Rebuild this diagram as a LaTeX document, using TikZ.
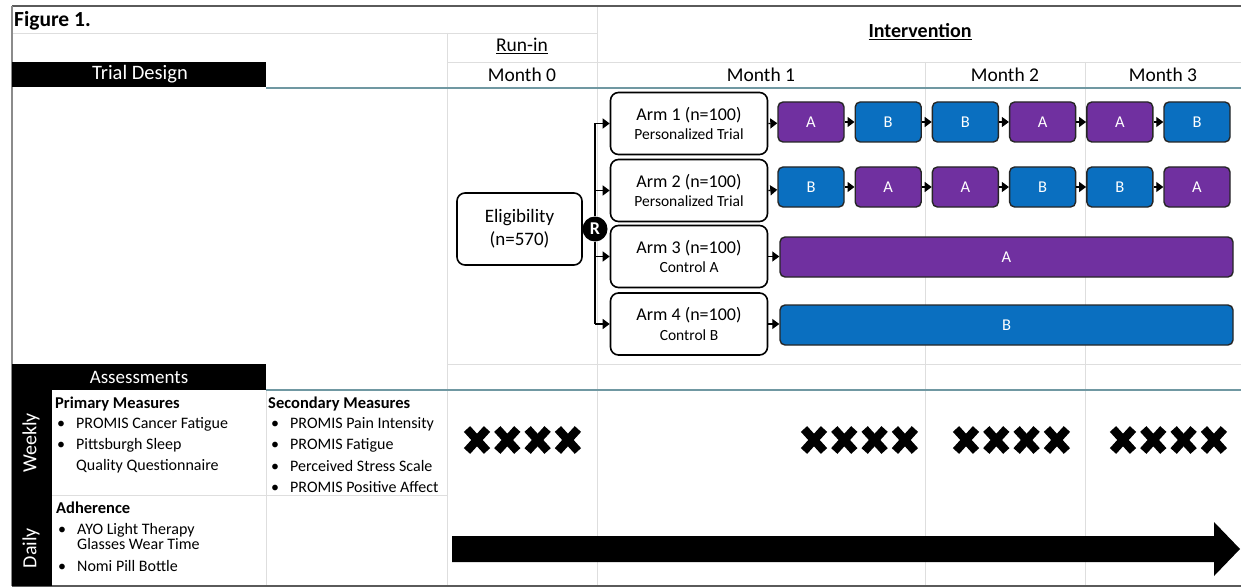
\documentclass[tikz,border=0pt]{standalone}
\usepackage{fontspec}
\setmainfont{Carlito}
\usetikzlibrary{arrows.meta}
\definecolor{armpurple}{HTML}{7030A0}
\definecolor{armblue}{HTML}{0A6FC0}
\definecolor{rule}{RGB}{112,152,162}
\definecolor{faint}{RGB}{222,222,222}
\definecolor{frame}{RGB}{90,90,90}
\tikzset{
  gridline/.style={draw=faint, line width=0.9pt},
  headrule/.style={draw=rule, line width=1.3pt},
  armbox/.style={draw=black, line width=1.6pt, rounded corners=8pt, fill=white,
    minimum width=157pt, minimum height=62pt, align=center, inner sep=0pt},
  phase/.style={draw=black!85, line width=1.4pt, rounded corners=5pt, text=white,
    minimum height=40pt, inner sep=0pt, font=\fontsize{16.5}{16.5}\selectfont},
  boxA/.style={phase, fill=armpurple, minimum width=66pt},
  boxB/.style={phase, fill=armblue, minimum width=66pt},
  link/.style={-{Triangle[length=7pt,width=10pt]}, line width=1.3pt},
  trunk/.style={line width=1.3pt},
  hdr/.style={font=\fontsize{19.5}{19.5}\selectfont, inner sep=0pt},
  item/.style={anchor=west, inner sep=0pt, font=\fontsize{16}{16}\selectfont},
  itemhead/.style={anchor=west, inner sep=0pt, font=\bfseries\fontsize{16.5}{16.5}\selectfont},
  sidelabel/.style={rotate=90, text=white, inner sep=0pt, font=\fontsize{20}{20}\selectfont},
  wk/.pic={\draw[line width=8.5pt] (-10,-11) -- (10,11) (-10,11) -- (10,-11);},
}
\newcommand{\bul}[1]{\makebox[19pt][l]{\textbullet}#1}
\newcommand{\armtext}[2]{{\fontsize{18}{18}\selectfont #1}\\[5pt]{\fontsize{15.5}{15.5}\selectfont #2}}
\begin{document}
\begin{tikzpicture}[x=1pt,y=-1pt]
\useasboundingbox (0,0) rectangle (1241,588);
\fill[white] (0,0) rectangle (1241,588);

% table grid
\draw[gridline] (12,33) -- (597,33);
\draw[gridline] (447,62) -- (1241,62);
\draw[gridline] (447,33) -- (447,586);
\draw[gridline] (597,6) -- (597,586);
\draw[gridline] (925,62) -- (925,586);
\draw[gridline] (1085,62) -- (1085,586);
\draw[gridline] (447,364) -- (1241,364);
\draw[gridline] (52,495) -- (447,495);
\draw[gridline] (266,390) -- (266,586);
\draw[headrule] (266,88) -- (1241,88);
\draw[headrule] (266,390) -- (1241,390);

% outer frame
\draw[frame, line width=2pt] (12,6) -- (1241,6);
\draw[frame!70, line width=1.2pt] (12,6) -- (12,586);
\draw[frame, line width=2pt] (12,586) -- (1241,586);

% black header bars
\fill[black] (12,62) rectangle (266,87);
\fill[black] (12,364) rectangle (266,390);
\fill[black] (12,364) rectangle (52,586);

% header texts
\node[anchor=west, inner sep=0pt, font=\bfseries\fontsize{21.5}{21.5}\selectfont] (fig) at (14,21) {Figure 1.};
\node[hdr, text=white, font=\fontsize{20.5}{20.5}\selectfont] (td) at (140,74.5) {Trial Design};
\node[hdr] (runin) at (522,46) {\underline{Run-in}};
\node[hdr, font=\bfseries\fontsize{20}{20}\selectfont] (interv) at (920,32) {\underline{Intervention}};
\node[hdr] (m0) at (522,75) {Month 0};
\node[hdr] (m1) at (761,75) {Month 1};
\node[hdr] (m2) at (1005,75) {Month 2};
\node[hdr] (m3) at (1163,75) {Month 3};

% randomisation
\node[armbox, minimum width=125pt, minimum height=72pt, font=\fontsize{19}{23}\selectfont] (elig) at (519.5,229) {Eligibility\\(n=570)};
\node[circle, fill=black, text=white, inner sep=0pt, minimum size=25pt,
  font=\bfseries\fontsize{18}{18}\selectfont] (R) at (595,229) {R};

\node[armbox] (arm1) at (689,123.5) {\armtext{Arm 1 (n=100)}{Personalized Trial}};
\node[armbox] (arm2) at (689,190.5) {\armtext{Arm 2 (n=100)}{Personalized Trial}};
\node[armbox] (arm3) at (689,256.5) {\armtext{Arm 3 (n=100)}{Control A}};
\node[armbox] (arm4) at (689,324) {\armtext{Arm 4 (n=100)}{Control B}};

\draw[trunk] (arm1.west -| R) -- (R.north);
\draw[trunk] (R.south) -- (arm4.west -| R);
\foreach \k in {1,2,3,4} {
  \draw[link] (arm\k.west -| R) -- (arm\k.west);
}

% treatment sequences
\foreach \t [count=\i] in {A,B,B,A,A,B} {
  \node[box\t] (p\i) at ({811+77.2*(\i-1)},122) {\t};
}
\foreach \t [count=\i] in {B,A,A,B,B,A} {
  \node[box\t] (q\i) at ({811+77.2*(\i-1)},187) {\t};
}
\node[boxA, minimum width=453pt] (ctlA) at (1006.5,257) {A};
\node[boxB, minimum width=453pt] (ctlB) at (1006.5,325) {B};

\draw[link] (arm1.east) -- (p1);
\draw[link] (arm2.east) -- (q1);
\draw[link] (arm3.east) -- (ctlA.west |- arm3.east);
\draw[link] (arm4.east) -- (ctlB.west |- arm4.east);
\foreach \i [count=\j from 2] in {1,...,5} {
  \draw[link] (p\i) -- (p\j);
  \draw[link] (q\i) -- (q\j);
}

% assessments
\node[hdr, text=white, font=\fontsize{19}{19}\selectfont] (assess) at (139,377) {Assessments};
\node[sidelabel] (weekly) at (31,443) {Weekly};
\node[sidelabel] (daily) at (31,548) {Daily};

\node[itemhead] (prim) at (55,404) {Primary Measures};
\node[item] (prim1) at (57,424) {\bul{PROMIS Cancer Fatigue}};
\node[item] (prim2) at (57,445) {\bul{Pittsburgh Sleep}};
\node[item] (prim3) at (76,466) {Quality Questionnaire};

\node[itemhead] (sec) at (268,404) {Secondary Measures};
\node[item] (sec1) at (271,424) {\bul{PROMIS Pain Intensity}};
\node[item] (sec2) at (271,445) {\bul{PROMIS Fatigue}};
\node[item] (sec3) at (271,466) {\bul{Perceived Stress Scale}};
\node[item] (sec4) at (271,487) {\bul{PROMIS Positive Affect}};

\node[itemhead] (adh) at (56,508) {Adherence};
\node[item, align=left] (adh1) at (58,536) {\bul{AYO Light Therapy}\\[-1pt]\hspace*{19pt}Glasses Wear Time};
\node[item] (adh2) at (58,566) {\bul{Nomi Pill Bottle}};

% weekly assessment marks, four per group
\foreach \g in {477,814,966,1123} {
  \foreach \k in {0,1,2,3} {
    \pic at ({\g+30.3*\k},440) {wk};
  }
}

% daily timeline arrow
\fill[black] (452,536) -- (1214,536) -- (1214,522) -- (1240,549) -- (1214,576)
  -- (1214,562) -- (452,562) -- cycle;
\end{tikzpicture}
\end{document}
